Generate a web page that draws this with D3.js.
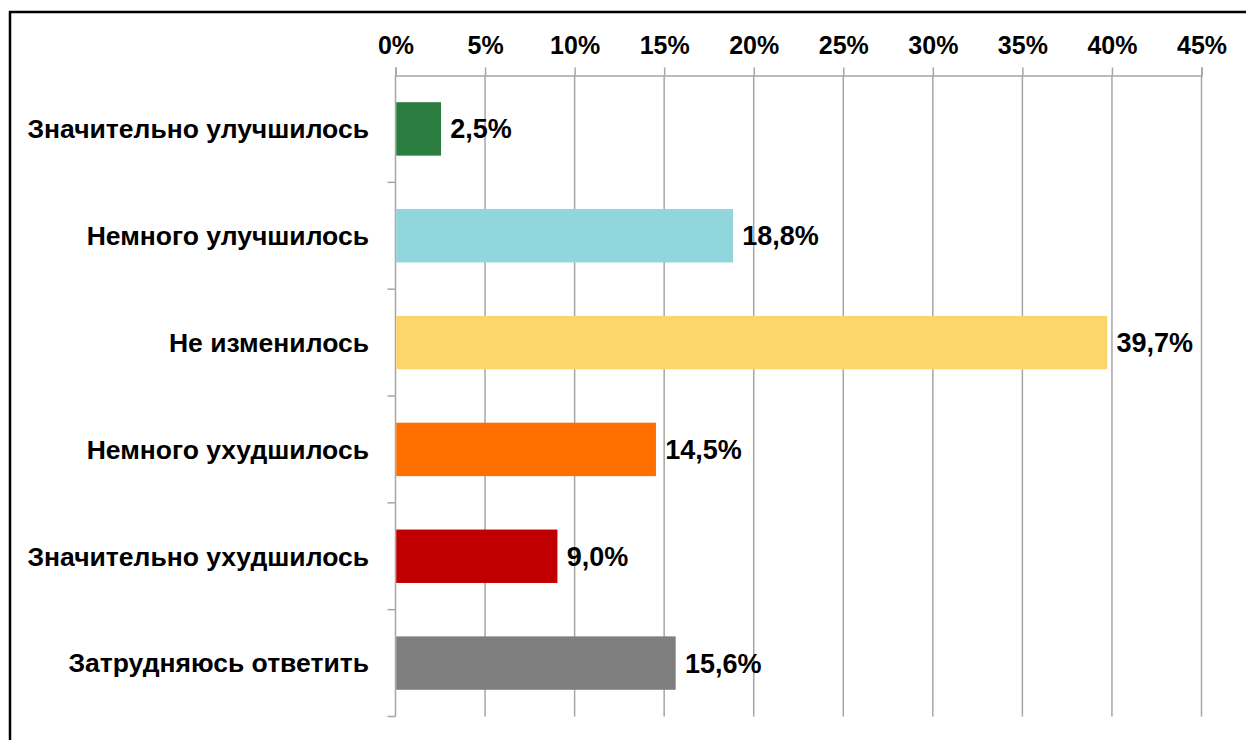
<!DOCTYPE html>
<html>
<head>
<meta charset="utf-8">
<script src="https://cdn.jsdelivr.net/npm/d3@7"></script>
<style>
  html, body { margin: 0; padding: 0; background: #fff; }
  svg text { font-family: "Liberation Sans", Arial, sans-serif; font-weight: bold; fill: #000; }
</style>
</head>
<body>
<div id="chart"></div>
<script>
// ── Data ──────────────────────────────────────────────────────────────
const categories = [
  'Значительно улучшилось',
  'Немного улучшилось',
  'Не изменилось',
  'Немного ухудшилось',
  'Значительно ухудшилось',
  'Затрудняюсь ответить'
];
const values = [2.5, 18.8, 39.7, 14.5, 9.0, 15.6];
const barColors = ['#2B7D3F', '#92D6DD', '#FDD66B', '#FF6F00', '#C00000', '#7F7F7F'];
const xTicks = [0, 5, 10, 15, 20, 25, 30, 35, 40, 45];

// ── Layout ────────────────────────────────────────────────────────────
const W = 1246, H = 740;
const plotL = 395.5, plotR = 1201.5, plotT = 75.5, plotB = 716.5;

const svg = d3.select('#chart').append('svg')
  .attr('width', W).attr('height', H);

// outer frame
svg.append('rect')
  .attr('x', 10).attr('y', 12)
  .attr('width', W + 20).attr('height', H + 20)
  .attr('fill', 'none').attr('stroke', '#000').attr('stroke-width', 2.5);

const x = d3.scaleLinear().domain([0, 45]).range([plotL, plotR]);
const y = d3.scaleBand().domain(categories).range([plotT, plotB]).paddingInner(0.5).paddingOuter(0.25);
const yEdge = d3.scaleLinear().domain([0, categories.length]).range([plotT, plotB]);

const gridColor = '#A6A6A6';

// ── Vertical gridlines + top axis ─────────────────────────────────────
const xAxis = d3.axisTop(x)
  .tickValues(xTicks)
  .tickSize(8)
  .tickPadding(14)
  .tickFormat(d => d + '%');

const gx = svg.append('g')
  .attr('transform', `translate(0,${plotT})`)
  .call(xAxis);
gx.select('.domain').attr('stroke', gridColor).attr('stroke-width', 1.5);
gx.selectAll('.tick line').attr('stroke', gridColor).attr('stroke-width', 1.5);
gx.selectAll('.tick text').attr('font-size', 25).attr('fill', '#000')
  .attr('font-family', '"Liberation Sans", Arial, sans-serif').attr('font-weight', 'bold');

svg.append('g').selectAll('line')
  .data(xTicks.slice(1))
  .join('line')
  .attr('x1', d => x(d)).attr('x2', d => x(d))
  .attr('y1', plotT).attr('y2', plotB)
  .attr('stroke', gridColor).attr('stroke-width', 1.5);

// ── Left axis line with category boundary ticks ───────────────────────
svg.append('line')
  .attr('x1', plotL).attr('x2', plotL)
  .attr('y1', plotT).attr('y2', plotB)
  .attr('stroke', gridColor).attr('stroke-width', 1.5);

svg.append('g').selectAll('line')
  .data(d3.range(1, categories.length + 1))
  .join('line')
  .attr('x1', plotL - 8).attr('x2', plotL)
  .attr('y1', d => yEdge(d)).attr('y2', d => yEdge(d))
  .attr('stroke', gridColor).attr('stroke-width', 1.5);

// ── Bars ──────────────────────────────────────────────────────────────
svg.append('g').selectAll('rect')
  .data(values)
  .join('rect')
  .attr('x', x(0) + 0.75)
  .attr('y', (d, i) => y(categories[i]))
  .attr('width', d => x(d) - x(0))
  .attr('height', y.bandwidth())
  .attr('fill', (d, i) => barColors[i]);

// value labels
svg.append('g').selectAll('text')
  .data(values)
  .join('text')
  .attr('x', d => x(d) + 10)
  .attr('y', (d, i) => y(categories[i]) + y.bandwidth() / 2)
  .attr('dy', '0.35em')
  .attr('font-size', 27)
  .text(d => d.toFixed(1).replace('.', ',') + '%');

// category labels
svg.append('g').selectAll('text')
  .data(categories)
  .join('text')
  .attr('x', 369)
  .attr('y', d => y(d) + y.bandwidth() / 2)
  .attr('dy', '0.35em')
  .attr('text-anchor', 'end')
  .attr('font-size', 26.5)
  .text(d => d);
</script>
</body>
</html>
